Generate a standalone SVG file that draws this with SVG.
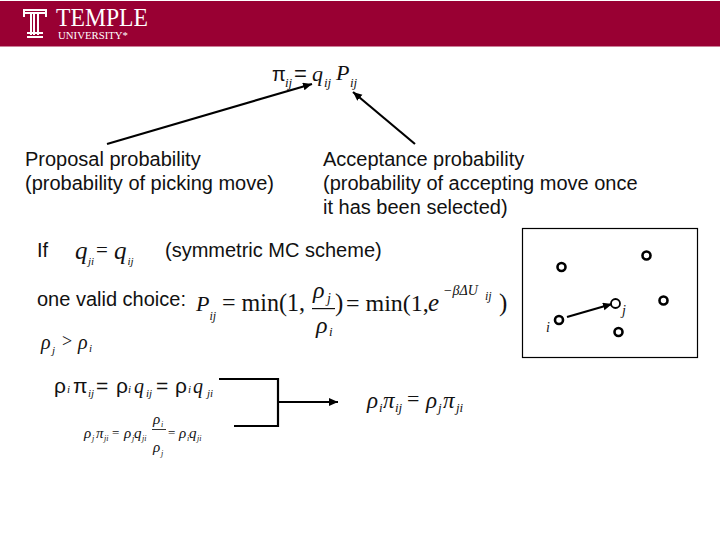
<svg xmlns="http://www.w3.org/2000/svg" width="720" height="540" viewBox="0 0 720 540">
<defs><marker id="ah" markerUnits="userSpaceOnUse" markerWidth="10" markerHeight="9" refX="9" refY="4" orient="auto"><path d="M0 0L9 4L0 8z" fill="#000"/></marker></defs>
<style>
.s{font-family:"Liberation Sans",Arial,sans-serif;font-size:20px;fill:#111}
.t{font-family:"Liberation Serif","Times New Roman",serif;fill:#111}
.i{font-style:italic}
.c{stroke:#000;stroke-width:2.2;fill:none}
.n{fill:#fff;stroke:#000;stroke-width:2.6}
</style>
<rect width="720" height="540" fill="#fff"/>
<g id="header"><rect y="1" width="720" height="45.500" fill="#990033"/>
<g fill="#fff"><rect x="23" y="9" width="24" height="2"/><rect x="23" y="12" width="24" height="2"/><rect x="23" y="9" width="2" height="8"/><rect x="45" y="9" width="2" height="8"/><rect x="30" y="12" width="2" height="23"/><rect x="33" y="12" width="2" height="23"/><rect x="37" y="12" width="2" height="23"/><rect x="27" y="32" width="16" height="2"/><rect x="27" y="36" width="16" height="2"/></g>
<text x="56" y="26" font-family="Liberation Serif,serif" font-size="26" fill="#fff" textLength="92" lengthAdjust="spacingAndGlyphs">TEMPLE</text>
<text x="58" y="39" font-family="Liberation Serif,serif" font-size="9.500" fill="#fff" textLength="70" lengthAdjust="spacingAndGlyphs">UNIVERSITY*</text></g>
<g id="box"><rect x="522.500" y="228.500" width="175" height="129" fill="#fff" stroke="#000" stroke-width="1.200"/></g>
<g id="connectors">
<path class="c" d="M107 144L312 84" marker-end="url(#ah)"/>
<path class="c" d="M415 144L353 92" marker-end="url(#ah)"/>
<path class="c" d="M567 317L612 304" marker-end="url(#ah)"/>
<path class="c" d="M219 379H278V426H234"/>
<path class="c" d="M278 402H338" marker-end="url(#ah)"/>
</g>
<g id="eq-pi"><text x="272" y="81" class="s">π</text><text x="285" y="87" class="t i" font-size="13">ij</text><text x="294" y="81" class="s" style="font-size:22px">=</text><text x="312" y="81" class="t i" font-size="22">q</text><text x="324" y="87" class="t i" font-size="13">ij</text><text x="336" y="80" class="t i" font-size="22">P</text><text x="350" y="87" class="t i" font-size="13">ij</text></g>
<g id="proposal"><text x="25" y="166" class="s">Proposal probability</text><text x="25" y="190" class="s">(probability of picking move)</text></g>
<g id="acceptance"><text x="323" y="166" class="s">Acceptance probability</text><text x="323" y="190" class="s">(probability of accepting move once</text><text x="323" y="214" class="s">it has been selected)</text></g>
<g id="if-line"><text x="37" y="257" class="s">If</text><text x="75" y="259" class="t i" font-size="25">q</text><text x="88" y="265" class="t i" font-size="11">ji</text><text x="96" y="257" class="t" font-size="21">=</text><text x="114" y="259" class="t i" font-size="25">q</text><text x="127.500" y="265" class="t i" font-size="11">ij</text><text x="165" y="257" class="s">(symmetric MC scheme)</text></g>
<g id="choice"><text x="37" y="306" class="s">one valid choice:</text><text x="196" y="311" class="t i" font-size="22">P</text><text x="209.500" y="320" class="t i" font-size="12">ij</text><text x="222" y="311" class="t" font-size="25" textLength="83" lengthAdjust="spacingAndGlyphs">= min(1,</text><text x="313" y="298" class="t i" font-size="24">ρ</text><text x="327" y="303" class="t i" font-size="14">j</text><rect x="312" y="308" width="23" height="1.200" fill="#111"/><text x="316" y="333" class="t i" font-size="24">ρ</text><text x="329" y="336" class="t i" font-size="13">i</text><text x="335" y="311" class="t" font-size="25">)</text><text x="346" y="311" class="t" font-size="24">= min(1,</text><text x="428" y="311" class="t i" font-size="25">e</text><text x="443" y="295" class="t i" font-size="14">−βΔU</text><text x="485" y="300" class="t i" font-size="12">ij</text><text x="499" y="311" class="t" font-size="25">)</text></g>
<g id="rho-ineq"><text x="41" y="349" class="t i" font-size="20">ρ</text><text x="52" y="354" class="t i" font-size="11">j</text><text x="62" y="347" class="t" font-size="18">&gt;</text><text x="78" y="349" class="t i" font-size="20">ρ</text><text x="89" y="352" class="t i" font-size="11">i</text></g>
<g id="eq-a"><text x="54" y="393" class="s" style="font-size:21px">ρ</text><text x="67" y="393" class="t i" font-size="11">i</text><text x="73" y="393" class="s" style="font-size:21px">π</text><text x="88" y="397" class="t i" font-size="11">ij</text><text x="96" y="393" class="s" style="font-size:21px">=</text><text x="116" y="393" class="s" style="font-size:21px">ρ</text><text x="128" y="393" class="t i" font-size="11">i</text><text x="134" y="393" class="t i" font-size="20">q</text><text x="146" y="397" class="t i" font-size="11">ij</text><text x="156" y="393" class="s" style="font-size:21px">=</text><text x="175" y="393" class="s" style="font-size:21px">ρ</text><text x="188" y="393" class="t i" font-size="11">i</text><text x="193" y="393" class="t i" font-size="20">q</text><text x="207" y="397" class="t i" font-size="11">ji</text></g>
<g id="eq-b"><text x="84" y="438" class="t i" font-size="15">ρ</text><text x="92" y="441" class="t i" font-size="8">j</text><text x="96" y="438" class="t i" font-size="15">π</text><text x="104" y="441" class="t i" font-size="8">ji</text><text x="112" y="437" class="t" font-size="13">=</text><text x="124" y="438" class="t i" font-size="15">ρ</text><text x="132" y="441" class="t i" font-size="8">j</text><text x="134" y="438" class="t i" font-size="15">q</text><text x="142" y="441" class="t i" font-size="8">ji</text><text x="153" y="424" class="t i" font-size="15">ρ</text><text x="161" y="427" class="t i" font-size="8">i</text><rect x="152" y="429" width="14" height="1" fill="#333"/><text x="153" y="452" class="t i" font-size="15">ρ</text><text x="161" y="456" class="t i" font-size="8">j</text><text x="168" y="437" class="t" font-size="13">=</text><text x="179" y="438" class="t i" font-size="15">ρ</text><text x="187" y="441" class="t i" font-size="8">i</text><text x="189" y="438" class="t i" font-size="15">q</text><text x="197" y="441" class="t i" font-size="8">ji</text></g>
<g id="eq-c"><text x="367" y="408" class="t i" font-size="23">ρ</text><text x="379" y="412" class="t i" font-size="13">i</text><text x="383" y="408" class="t i" font-size="23">π</text><text x="395" y="412" class="t i" font-size="13">ij</text><text x="407" y="406" class="t" font-size="22">=</text><text x="426" y="408" class="t i" font-size="23">ρ</text><text x="438" y="412" class="t i" font-size="13">j</text><text x="443" y="408" class="t i" font-size="23">π</text><text x="456" y="412" class="t i" font-size="13">ji</text></g>
<g id="n1"><circle class="n" cx="561.500" cy="267" r="4"/></g>
<g id="n2"><circle class="n" cx="646.500" cy="255.500" r="4"/></g>
<g id="n3"><circle class="n" cx="663.500" cy="300.500" r="4"/></g>
<g id="nj"><circle class="n" cx="615.500" cy="303.500" r="4.500" style="stroke-width:1.800"/><text x="622" y="315" class="t i" font-size="14">j</text></g>
<g id="n5"><circle class="n" cx="618.500" cy="332" r="4"/></g>
<g id="ni"><circle class="n" cx="559" cy="320" r="4"/><text x="546" y="332" class="t i" font-size="14">i</text></g>
</svg>
